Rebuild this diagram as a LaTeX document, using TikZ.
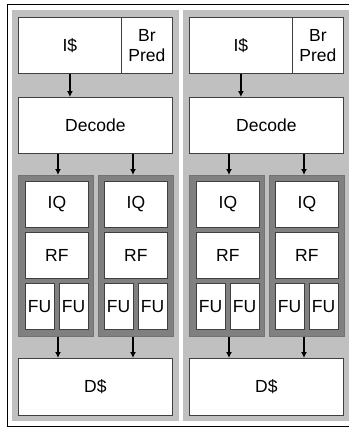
\documentclass[tikz,border=0pt]{standalone}
\usepackage{fontspec}
\setmainfont{Liberation Sans}
\usetikzlibrary{arrows.meta}
\definecolor{panelgray}{HTML}{C0C0C0}
\definecolor{clustergray}{HTML}{808080}
\definecolor{edgegray}{HTML}{404040}
\begin{document}
\begin{tikzpicture}[x=1pt,y=-1pt,
  box/.style={draw=edgegray,fill=white,line width=0.8pt,inner sep=0pt,anchor=north west,
              font=\fontsize{17.5}{20.5}\selectfont,align=center},
  cluster/.style={draw=clustergray!90!black,fill=clustergray,line width=0.6pt,inner sep=0pt,anchor=north west},
  arr/.style={line width=1.4pt,-{Latex[length=6pt,width=6pt]}}]
\useasboundingbox (0,0) rectangle (349,428);
\draw[line width=1pt] (349,5) -- (7,5) -- (7,426) -- (349,426);
\foreach \s/\o/\pr in {L/0/179,R/171/178}{
  \begin{scope}[xshift=\o pt]
    \fill[panelgray] (12,10) rectangle (\pr,421);
    \node[box,minimum width=103pt,minimum height=56pt] (is\s) at (18,17) {I\$};
    \node[box,minimum width=51pt,minimum height=56pt] (bp\s) at (121,17) {Br\\Pred};
    \node[box,minimum width=154pt,minimum height=56pt] (dec\s) at (18,97) {Decode};
    \node[cluster,minimum width=75pt,minimum height=161pt] (ca\s) at (18,175) {};
    \node[cluster,minimum width=75pt,minimum height=161pt] (cb\s) at (98,175) {};
    \node[box,minimum width=63pt,minimum height=46pt] (iqa\s) at (25,181) {IQ};
    \node[box,minimum width=63pt,minimum height=46pt] (iqb\s) at (104,181) {IQ};
    \node[box,minimum width=63pt,minimum height=46pt] (rfa\s) at (25,232) {RF};
    \node[box,minimum width=63pt,minimum height=46pt] (rfb\s) at (104,232) {RF};
    \node[box,minimum width=28.5pt,minimum height=46pt] (fua\s) at (25,283) {FU};
    \node[box,minimum width=28.5pt,minimum height=46pt] (fub\s) at (59,283) {FU};
    \node[box,minimum width=28.5pt,minimum height=46pt] (fuc\s) at (104,283) {FU};
    \node[box,minimum width=28.5pt,minimum height=46pt] (fud\s) at (138,283) {FU};
    \node[box,minimum width=154pt,minimum height=57pt] (ds\s) at (18,358) {D\$};
    \coordinate (xa\s) at (58,0);
    \coordinate (xb\s) at (133,0);
    \draw[arr] (is\s.south) -- (dec\s.north -| is\s.south);
    \draw[arr] (dec\s.south -| xa\s) -- (ca\s.north -| xa\s);
    \draw[arr] (dec\s.south -| xb\s) -- (cb\s.north -| xb\s);
    \draw[arr] (ca\s.south -| xa\s) -- (ds\s.north -| xa\s);
    \draw[arr] (cb\s.south -| xb\s) -- (ds\s.north -| xb\s);
  \end{scope}
}
\end{tikzpicture}
\end{document}
